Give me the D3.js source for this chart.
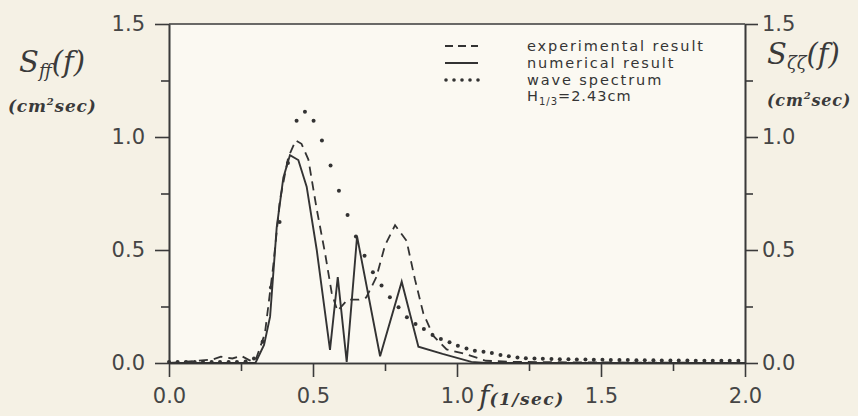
<!DOCTYPE html>
<html>
<head>
<meta charset="utf-8">
<script src="https://cdn.jsdelivr.net/npm/d3@7"></script>
<style>
  body { margin: 0; background: #f5f1e5; }
  svg { display: block; }
  .tick text { font-family: "DejaVu Sans", sans-serif; font-size: 21px; fill: #454545; }
  .axis path, .axis line { stroke: #3a3a3a; stroke-width: 1.6px; }
  .legend text { font-family: "DejaVu Sans", sans-serif; font-size: 14.5px; fill: #353535; letter-spacing: 1.9px; }
</style>
</head>
<body>
<div id="chart"></div>
<script>
var width = 858, height = 416;

// frequency axis ticks and spectrum ticks
var xMajor = [0, 0.5, 1.0, 1.5, 2.0];
var xMinor = [0.25, 0.75, 1.25, 1.75];
var yMajor = [0, 0.5, 1.0, 1.5];
var yMinor = [0.25, 0.75, 1.25];

// experimental result (dashed)
var expF = [0, 0.05, 0.1, 0.15, 0.18, 0.22, 0.25, 0.28, 0.3, 0.333, 0.362, 0.385, 0.414, 0.44, 0.46, 0.484,
            0.513, 0.542, 0.565, 0.585, 0.62, 0.66, 0.685, 0.72, 0.75, 0.785, 0.825, 0.854, 0.883, 0.918,
            0.964, 1.03, 1.1, 1.2, 1.4, 2.0];
var expS = [0, 0.005, 0.01, 0.015, 0.028, 0.02, 0.032, 0.012, 0.01, 0.13, 0.43, 0.72, 0.91, 0.985, 0.97, 0.9,
            0.68, 0.485, 0.31, 0.23, 0.28, 0.28, 0.29, 0.38, 0.52, 0.61, 0.54, 0.37, 0.22, 0.12,
            0.06, 0.04, 0.01, 0.005, 0.003, 0];

// numerical result (solid)
var numF = [0, 0.3, 0.33, 0.351, 0.374, 0.397, 0.42, 0.449, 0.478, 0.513, 0.559, 0.586, 0.617, 0.653,
            0.733, 0.808, 0.866, 0.95, 1.05, 1.1, 2.0];
var numS = [0, 0, 0.08, 0.205, 0.6, 0.82, 0.92, 0.898, 0.78, 0.5, 0.058, 0.38, 0.005, 0.56,
            0.03, 0.36, 0.072, 0.04, 0.005, 0, 0];

// wave spectrum (dotted), H1/3 = 2.43cm
var waveF = [0, 0.030, 0.059, 0.089, 0.118, 0.148, 0.177, 0.207, 0.236, 0.266, 0.295, 0.325, 0.354, 0.384,
             0.413, 0.443, 0.472, 0.502, 0.531, 0.561, 0.590, 0.620, 0.649, 0.679, 0.708, 0.738, 0.767,
             0.797, 0.826, 0.856, 0.885, 0.915, 0.944, 0.974, 1.003, 1.033, 1.062, 1.092, 1.121, 1.151,
             1.180, 1.210, 1.239, 1.269, 1.298, 1.328, 1.357, 1.387, 1.416, 1.446, 1.475, 1.505, 1.534,
             1.564, 1.593, 1.623, 1.652, 1.682, 1.711, 1.741, 1.770, 1.800, 1.829, 1.859, 1.888, 1.918,
             1.947, 1.977];
var waveS = [0, 0, 0, 0, 0, 0, 0, 0, 0, 0.002, 0.015, 0.09, 0.33, 0.62,
             0.88, 1.068, 1.107, 1.068, 0.98, 0.87, 0.758, 0.65, 0.555, 0.47, 0.397, 0.338, 0.286,
             0.242, 0.198, 0.168, 0.146, 0.12, 0.102, 0.087, 0.072, 0.06, 0.05, 0.045, 0.04, 0.031,
             0.025, 0.02, 0.017, 0.015, 0.014, 0.013, 0.012, 0.012, 0.011, 0.011, 0.010, 0.010, 0.009,
             0.009, 0.009, 0.008, 0.008, 0.008, 0.007, 0.007, 0.007, 0.007, 0.006, 0.006, 0.006, 0.006,
             0.006, 0.005];

var legendItems = ["experimental result", "numerical result", "wave spectrum"];

var x = d3.scaleLinear().domain([0, 2]).range([169, 745]);
var y = d3.scaleLinear().domain([0, 1.5]).range([363, 24]);

var svg = d3.select("#chart").append("svg")
    .attr("width", width)
    .attr("height", height);

svg.append("rect")
    .attr("x", x(0)).attr("y", y(1.5))
    .attr("width", x(2) - x(0)).attr("height", y(0) - y(1.5))
    .attr("fill", "#fbf9f2");

function addAxis(axis, tx, ty) {
    var g = svg.append("g")
        .attr("class", "axis")
        .attr("transform", "translate(" + tx + "," + ty + ")")
        .call(axis);
    return g;
}

addAxis(d3.axisBottom(x).tickValues(xMajor).tickFormat(d3.format(".1f"))
    .tickSize(14).tickSizeOuter(0).tickPadding(11), 0, y(0));
addAxis(d3.axisBottom(x).tickValues(xMinor).tickFormat("")
    .tickSize(8).tickSizeOuter(0), 0, y(0));
addAxis(d3.axisLeft(y).tickValues(yMajor).tickFormat(d3.format(".1f"))
    .tickSize(14).tickSizeOuter(0).tickPadding(10), x(0), 0);
addAxis(d3.axisLeft(y).tickValues(yMinor).tickFormat("")
    .tickSize(8).tickSizeOuter(0), x(0), 0);
addAxis(d3.axisRight(y).tickValues(yMajor).tickFormat(d3.format(".1f"))
    .tickSize(13).tickSizeOuter(0).tickPadding(4), x(2), 0);
addAxis(d3.axisRight(y).tickValues(yMinor).tickFormat("")
    .tickSize(8).tickSizeOuter(0), x(2), 0);

// top frame line
svg.append("line")
    .attr("x1", x(0)).attr("x2", x(2))
    .attr("y1", y(1.5)).attr("y2", y(1.5))
    .attr("stroke", "#3a3a3a").attr("stroke-width", 1.6);

var line = d3.line()
    .x(function(d) { return x(d[0]); })
    .y(function(d) { return y(d[1]); });

svg.append("path")
    .datum(d3.zip(expF, expS))
    .attr("d", line)
    .attr("fill", "none")
    .attr("stroke", "#333")
    .attr("stroke-width", 1.8)
    .attr("stroke-dasharray", "9,6");

svg.append("path")
    .datum(d3.zip(numF, numS))
    .attr("d", line)
    .attr("fill", "none")
    .attr("stroke", "#333")
    .attr("stroke-width", 1.9);

svg.selectAll("circle.wave")
    .data(d3.zip(waveF, waveS))
  .enter()
    .append("circle")
    .attr("class", "wave")
    .attr("cx", function(d) { return x(d[0]); })
    .attr("cy", function(d) { return y(d[1]) - 1; })
    .attr("r", 2)
    .attr("fill", "#333");

// legend
var legend = svg.append("g").attr("class", "legend");
var rowY = [46, 63, 80];

legend.append("line")
    .attr("x1", 445).attr("x2", 478).attr("y1", rowY[0]).attr("y2", rowY[0])
    .attr("stroke", "#333").attr("stroke-width", 1.8).attr("stroke-dasharray", "8,5");
legend.append("line")
    .attr("x1", 445).attr("x2", 478).attr("y1", rowY[1]).attr("y2", rowY[1])
    .attr("stroke", "#333").attr("stroke-width", 1.8);
legend.selectAll("circle")
    .data([0, 1, 2, 3, 4])
  .enter()
    .append("circle")
    .attr("cx", function(d) { return 446 + d * 8; })
    .attr("cy", rowY[2])
    .attr("r", 1.8)
    .attr("fill", "#333");

legend.selectAll("text.item")
    .data(legendItems)
  .enter()
    .append("text")
    .attr("class", "item")
    .attr("x", 527)
    .attr("y", function(d, i) { return rowY[i]; })
    .attr("dy", "0.35em")
    .text(function(d) { return d; });

var h = legend.append("text").attr("x", 527).attr("y", 96).attr("dy", "0.35em")
    .style("letter-spacing", "1px");
h.append("tspan").text("H");
h.append("tspan").attr("font-size", "10px").attr("dy", "4").text("1/3");
h.append("tspan").attr("dy", "-4").text("=2.43cm");

// axis titles
function mathTitle(tx, ty, sub) {
    var t = svg.append("text")
        .attr("x", tx).attr("y", ty)
        .attr("font-family", "'DejaVu Serif', serif")
        .attr("font-style", "italic")
        .attr("font-size", "29px")
        .attr("fill", "#3a3a3a");
    t.append("tspan").text("S");
    t.append("tspan").attr("font-size", "18px").attr("dy", "5").text(sub);
    t.append("tspan").attr("dy", "-5").text("(f)");
}

function unitTitle(tx, ty, size) {
    var t = svg.append("text")
        .attr("x", tx).attr("y", ty)
        .attr("font-family", "'DejaVu Serif', serif")
        .attr("font-style", "italic")
        .attr("font-weight", "bold")
        .attr("font-size", size + "px")
        .attr("letter-spacing", "0.8px")
        .attr("fill", "#3a3a3a");
    t.append("tspan").text("(cm");
    t.append("tspan").attr("font-size", "10px").attr("dy", "-7").text("2");
    t.append("tspan").attr("dy", "7").text("sec)");
}

mathTitle(19, 72, "ff");
unitTitle(8, 112, 17);
mathTitle(767, 64, "ζζ");
unitTitle(767, 106, 16);

var fx = svg.append("text")
    .attr("x", 479).attr("y", 405)
    .attr("font-family", "'DejaVu Serif', serif")
    .attr("font-style", "italic")
    .attr("fill", "#3a3a3a");
fx.append("tspan").attr("font-size", "28px").text("f");
fx.append("tspan").attr("font-size", "17px").attr("font-weight", "bold")
    .attr("letter-spacing", "1.5px").text("(1/sec)");
</script>
</body>
</html>
